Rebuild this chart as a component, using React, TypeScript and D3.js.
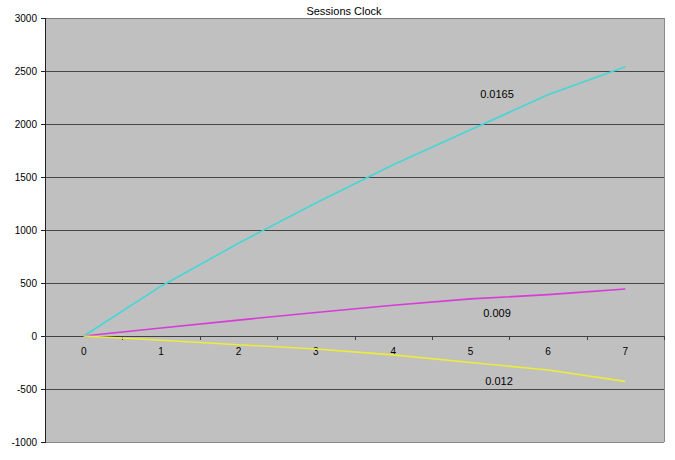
import React from "react";
import * as d3 from "d3";

const categories = ["0", "1", "2", "3", "4", "5", "6", "7"];
const cyanValues = [0, 470, 875, 1255, 1615, 1945, 2275, 2540];
const magentaValues = [0, 75, 150, 222, 290, 350, 390, 443];
const yellowValues = [0, -40, -82, -123, -178, -250, -320, -428];
const yTicks = [-1000, -500, 0, 500, 1000, 1500, 2000, 2500, 3000];
const seriesLabels = ["0.0165", "0.009", "0.012"];
const title = "Sessions Clock";

const W = 675;
const H = 460;
const left = 45;
const right = 664;
const top = 18;
const bottom = 442;
const font = "'Liberation Sans', Arial, sans-serif";

export default function App() {
  const x = d3.scaleBand<string>().domain(categories).range([left, right]).padding(0);
  const y = d3.scaleLinear().domain([-1000, 3000]).range([bottom, top]);
  const cx = (c: string) => (x(c) as number) + x.bandwidth() / 2;

  const line = d3
    .line<number>()
    .x((_, i) => cx(categories[i]))
    .y((d) => y(d));

  const series = [
    { values: cyanValues, color: "#45d6d6", label: seriesLabels[0], lx: 497, ly: 98 },
    { values: magentaValues, color: "#d63cd6", label: seriesLabels[1], lx: 497, ly: 316.5 },
    { values: yellowValues, color: "#ecec3c", label: seriesLabels[2], lx: 499, ly: 385 },
  ];

  const boundaries = categories.map((c) => (x(c) as number) + x.bandwidth());

  return (
    <svg
      width={W}
      height={H}
      style={{ position: "absolute", left: 0, top: 0, background: "#fff" }}
      fontFamily={font}
    >
      <rect x={0} y={0} width={W} height={H} fill="#ffffff" />
      <rect x={left} y={top} width={right - left} height={bottom - top} fill="#c0c0c0" />
      {yTicks
        .filter((t) => t !== -1000 && t !== 3000 && t !== 0)
        .map((t) => (
          <line key={t} x1={left} x2={right} y1={y(t) + 0.5} y2={y(t) + 0.5} stroke="#464646" strokeWidth={1} />
        ))}
      {/* plot border */}
      <line x1={left} x2={right} y1={top + 0.5} y2={top + 0.5} stroke="#7a7a7a" />
      <line x1={right + 0.5} x2={right + 0.5} y1={top} y2={bottom} stroke="#8a8a8a" />
      <line x1={left} x2={right} y1={bottom + 0.5} y2={bottom + 0.5} stroke="#8a8a8a" />
      {/* y axis */}
      <line x1={left + 0.5} x2={left + 0.5} y1={top} y2={bottom + 1} stroke="#202020" />
      {yTicks.map((t) => (
        <g key={t}>
          <line x1={left - 4} x2={left} y1={y(t) + 0.5} y2={y(t) + 0.5} stroke="#202020" />
          <text x={37} y={y(t) + 3.5} textAnchor="end" fontSize={10} fill="#000">
            {t}
          </text>
        </g>
      ))}
      {/* x axis at zero */}
      <line x1={left} x2={right + 1} y1={y(0) + 0.5} y2={y(0) + 0.5} stroke="#404040" />
      {boundaries.map((b, i) => (
        <line key={i} x1={Math.round(b) + 0.5} x2={Math.round(b) + 0.5} y1={y(0)} y2={y(0) + 4} stroke="#404040" />
      ))}
      {categories.map((c) => (
        <text key={c} x={cx(c)} y={y(0) + 19} textAnchor="middle" fontSize={10} fill="#000">
          {c}
        </text>
      ))}
      {/* series */}
      {series.map((s, i) => (
        <path key={i} d={line(s.values) as string} fill="none" stroke={s.color} strokeWidth={1.6} />
      ))}
      {series.map((s, i) => (
        <text key={i} x={s.lx} y={s.ly} textAnchor="middle" fontSize={11} fill="#000">
          {s.label}
        </text>
      ))}
      <text x={344} y={15} textAnchor="middle" fontSize={11} fill="#000">
        {title}
      </text>
    </svg>
  );
}
